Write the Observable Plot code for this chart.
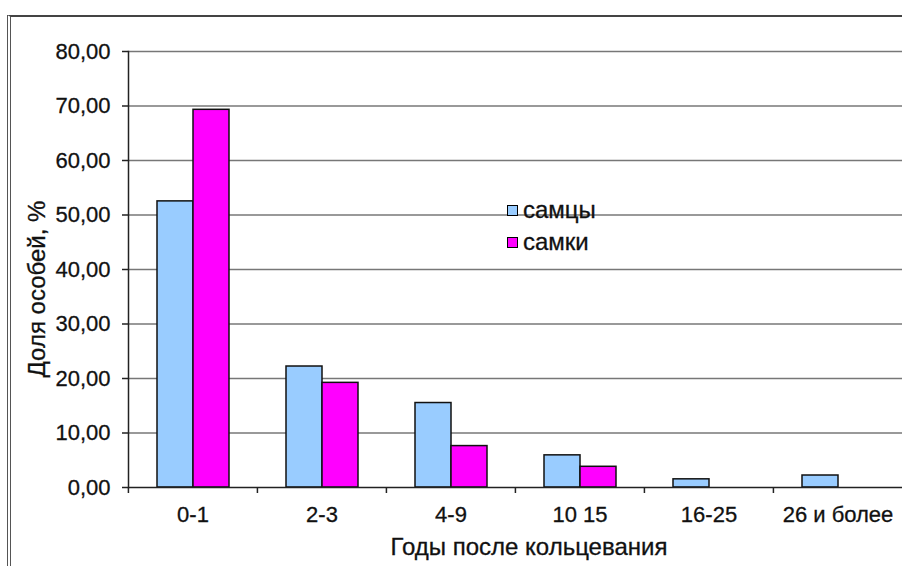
<!DOCTYPE html>
<html>
<head>
<meta charset="utf-8">
<script src="https://cdn.jsdelivr.net/npm/d3@7"></script>
<script src="https://cdn.jsdelivr.net/npm/@observablehq/plot@0.6"></script>
<style>
  html, body { margin: 0; padding: 0; background: #fff; }
  #wrap { position: relative; width: 902px; height: 566px; overflow: hidden; font-family: "Liberation Sans", Arial, sans-serif; color: #111; }
  #border { position: absolute; left: 7px; top: 15px; width: 900px; height: 560px; border-left: 4px double #555; border-top: 2px solid #444; box-sizing: border-box; }
  .legend { position: absolute; left: 507px; font-size: 24px; line-height: 1; display: flex; align-items: center; -webkit-text-stroke: 0.3px #111; }
  .sw { width: 9px; height: 9px; border: 1px solid #000; margin-right: 5px; }
  #xtitle { position: absolute; top: 534px; left: 0; width: 1058px; text-align: center; font-size: 24px; line-height: 26px; -webkit-text-stroke: 0.3px #111; }
  #ytitle { position: absolute; left: 37px; top: 289px; transform: translate(-50%, -50%) rotate(-90deg); white-space: nowrap; font-size: 24px; -webkit-text-stroke: 0.3px #111; }
  #chart svg text { stroke: #111; stroke-width: 0.3px; }
</style>
</head>
<body>
<div id="wrap">
  <div id="border"></div>
  <div id="chart"></div>
  <div id="legend"></div>
  <div id="xtitle"></div>
  <div id="ytitle"></div>
</div>
<script>
const categories = ["0-1", "2-3", "4-9", "10 15", "16-25", "26 и более"];
const seriesNames = ["самцы", "самки"];
const males = [52.5, 22.2, 15.5, 5.9, 1.5, 2.2];
const females = [69.3, 19.2, 7.6, 3.8, 0, 0];
const yTicks = [0, 10, 20, 30, 40, 50, 60, 70, 80];
const xTitle = "Годы после кольцевания";
const yTitle = "Доля особей, %";
const colors = ["#99CCFF", "#FF00FF"];

const data = [];
categories.forEach((c, i) => {
  data.push({cat: c, series: seriesNames[0], value: males[i]});
  data.push({cat: c, series: seriesNames[1], value: females[i]});
});

const W = 902, H = 566, mL = 127, mR = 0, mT = 51, mB = 79;
const step = (W - mL - mR) / categories.length;
const fmt = d => d.toFixed(2).replace(".", ",");
const font = "Liberation Sans, Arial, sans-serif";

const chart = Plot.plot({
  width: W, height: H,
  marginLeft: mL, marginRight: mR, marginTop: mT, marginBottom: mB,
  style: {fontFamily: font, fontSize: "22px", color: "#111", background: "transparent", overflow: "visible"},
  fx: {domain: categories, padding: 0, label: null},
  x: {domain: seriesNames, paddingInner: 0, paddingOuter: 0.75, axis: null},
  y: {domain: [0, 80], label: null},
  color: {domain: seriesNames, range: colors},
  marks: [
    Plot.gridY(yTicks.filter(d => d > 0), {stroke: "#777", strokeOpacity: 1, strokeWidth: 1.3}),
    Plot.barY(data, {fx: "cat", x: "series", y: "value", fill: "series", stroke: "#111", strokeWidth: 1.5, filter: d => d.value > 0}),
    Plot.ruleY([0], {stroke: "#222", strokeWidth: 1.5}),
    Plot.frame({anchor: "left", facetAnchor: "left", stroke: "#222", strokeWidth: 1.5}),
    Plot.axisY(yTicks, {tickSize: 6, tickPadding: 12, tickFormat: fmt, label: null, stroke: "#222", strokeWidth: 1.5, fill: "#111"}),
    Plot.axisFx({anchor: "bottom", tickSize: 0, tickPadding: 19, label: null, fill: "#111"}),
    Plot.axisFx({anchor: "bottom", text: null, tickSize: 6, dx: -step / 2, label: null, stroke: "#222", strokeWidth: 1.5})
  ]
});
document.getElementById("chart").appendChild(chart);

const leg = document.getElementById("legend");
seriesNames.forEach((s, i) => {
  const row = document.createElement("div");
  row.className = "legend";
  row.style.top = (198 + i * 32) + "px";
  const sw = document.createElement("div");
  sw.className = "sw";
  sw.style.background = colors[i];
  const t = document.createElement("span");
  t.textContent = s;
  row.appendChild(sw);
  row.appendChild(t);
  leg.appendChild(row);
});
document.getElementById("xtitle").textContent = xTitle;
document.getElementById("ytitle").textContent = yTitle;
</script>
</body>
</html>
